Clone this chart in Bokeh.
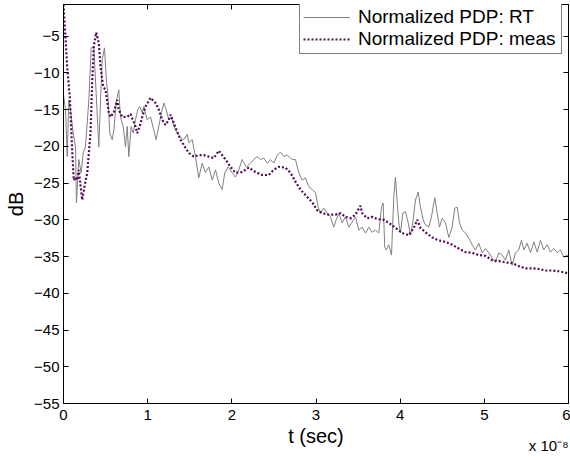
from bokeh.plotting import figure
from bokeh.models import Range1d, LinearAxis, FixedTicker, Title, Legend, LegendItem
from bokeh.embed import file_html
from bokeh.resources import INLINE

# time in units of 1e-8 s
t_rt = [0.000, 0.024, 0.044, 0.063, 0.083, 0.115, 0.143, 0.154, 0.182, 0.210,
        0.234, 0.261, 0.301, 0.329, 0.360, 0.392, 0.419, 0.440, 0.460, 0.487,
        0.511, 0.526, 0.550, 0.579, 0.598, 0.630, 0.657, 0.677, 0.709, 0.737,
        0.757, 0.776, 0.804, 0.828, 0.855, 0.883, 0.906, 0.935, 0.954, 0.994,
        1.034, 1.073, 1.101, 1.132, 1.164, 1.192, 1.220, 1.251, 1.283, 1.310,
        1.351, 1.390, 1.429, 1.470, 1.489, 1.529, 1.568, 1.607, 1.648, 1.687,
        1.726, 1.767, 1.806, 1.845, 1.885, 1.916, 1.957, 2.004, 2.043, 2.083,
        2.123, 2.171, 2.222, 2.261, 2.302, 2.341, 2.380, 2.420, 2.459, 2.499,
        2.539, 2.578, 2.617, 2.658, 2.717, 2.756, 2.796, 2.836, 2.875, 2.915,
        2.955, 2.994, 3.026, 3.053, 3.093, 3.133, 3.172, 3.211, 3.240, 3.271,
        3.311, 3.350, 3.390, 3.430, 3.469, 3.508, 3.549, 3.588, 3.627, 3.668,
        3.707, 3.746, 3.778, 3.798, 3.817, 3.834, 3.865, 3.897, 3.924, 3.944,
        3.965, 3.984, 4.004, 4.031, 4.063, 4.095, 4.123, 4.150, 4.182, 4.214,
        4.241, 4.274, 4.301, 4.340, 4.372, 4.411, 4.440, 4.467, 4.499, 4.538,
        4.578, 4.618, 4.649, 4.678, 4.705, 4.737, 4.776, 4.815, 4.855, 4.894,
        4.934, 4.974, 5.013, 5.053, 5.093, 5.132, 5.171, 5.212, 5.251, 5.290,
        5.331, 5.370, 5.409, 5.441, 5.469, 5.509, 5.548, 5.588, 5.628, 5.667,
        5.706, 5.747, 5.786, 5.825, 5.866, 5.905, 5.944, 5.984, 6.000]
pdp_rt = [-13.0, -15.0, -21.4, -13.7, -15.0, -18.2, -20.1, -27.7, -21.8, -23.6,
          -20.9, -20.1, -13.7, -6.6, -6.4, -13.7, -20.1, -13.7, -8.2, -6.6,
          -11.3, -12.7, -18.2, -19.1, -17.8, -13.7, -12.3, -16.0, -17.3, -20.1,
          -17.3, -21.4, -17.3, -18.2, -16.4, -15.0, -14.6, -15.4, -14.6, -16.4,
          -16.0, -17.8, -19.1, -17.3, -15.4, -14.1, -15.0, -16.4, -16.0, -17.3,
          -18.2, -18.8, -19.1, -18.4, -19.5, -19.1, -21.4, -24.3, -22.3, -23.6,
          -22.8, -24.6, -23.2, -25.0, -25.9, -23.6, -22.8, -23.6, -24.2, -23.2,
          -21.8, -22.8, -22.3, -21.8, -21.4, -21.8, -21.6, -22.3, -21.8, -22.3,
          -21.2, -20.8, -21.4, -21.2, -21.8, -21.8, -23.6, -24.6, -24.3, -25.5,
          -25.9, -26.3, -28.3, -29.1, -28.4, -29.1, -29.6, -31.0, -30.0, -29.1,
          -30.4, -29.6, -31.0, -30.3, -29.6, -31.4, -31.0, -31.8, -31.0, -31.7,
          -31.4, -31.8, -28.3, -27.7, -33.7, -34.1, -33.4, -34.8, -26.9, -24.2,
          -27.7, -30.4, -31.8, -29.1, -28.9, -30.4, -32.1, -30.4, -27.3, -26.2,
          -28.3, -30.0, -30.7, -31.0, -29.6, -27.0, -29.1, -31.0, -29.8, -30.4,
          -32.4, -31.0, -28.4, -28.3, -30.4, -31.4, -31.8, -32.5, -33.4, -34.1,
          -33.2, -34.5, -33.9, -34.5, -35.2, -35.8, -34.5, -34.8, -35.5, -34.1,
          -36.2, -34.5, -34.1, -32.8, -34.1, -33.2, -34.5, -33.0, -34.4, -32.8,
          -34.1, -33.4, -34.4, -33.9, -34.5, -34.1, -35.1, -34.8, -35.2]

t_meas = [0.000, 0.044, 0.075, 0.103, 0.122, 0.143, 0.166, 0.182, 0.202, 0.222,
          0.249, 0.282, 0.321, 0.341, 0.360, 0.388, 0.419, 0.440,
          0.472, 0.499, 0.538, 0.558, 0.598, 0.638, 0.657, 0.697, 0.757, 0.796,
          0.855, 0.876, 0.906, 0.935, 0.974, 1.034, 1.093, 1.132, 1.173, 1.212,
          1.251, 1.271, 1.310, 1.351, 1.390, 1.449, 1.489, 1.548, 1.607, 1.667,
          1.726, 1.786, 1.845, 1.885, 1.925, 1.984, 2.043, 2.123, 2.201, 2.281,
          2.361, 2.439, 2.498, 2.558, 2.637, 2.697, 2.756, 2.816, 2.895, 2.955,
          3.014, 3.073, 3.152, 3.231, 3.291, 3.350, 3.410, 3.469, 3.528, 3.549,
          3.608, 3.667, 3.727, 3.805, 3.865, 3.944, 4.024, 4.102, 4.162, 4.202,
          4.241, 4.301, 4.380, 4.459, 4.538, 4.618, 4.696, 4.776, 4.855, 4.934,
          5.013, 5.093, 5.171, 5.251, 5.331, 5.409, 5.489, 5.568, 5.647, 5.726,
          5.806, 5.884, 6.000]
pdp_meas = [-0.7, -9.2, -13.3, -20.5, -24.6, -24.2, -24.6, -23.2, -25.3, -27.3,
            -25.5, -23.6, -18.2, -11.3, -6.4, -4.5, -5.9, -9.2,
            -11.9, -12.3, -15.4, -16.0, -15.4, -13.7, -15.0, -16.0, -16.0, -15.6,
            -17.3, -18.2, -17.3, -16.0, -14.6, -13.4, -14.1, -15.0, -16.4, -17.1,
            -16.4, -15.7, -16.8, -18.0, -19.1, -20.2, -20.9, -21.4, -21.2, -21.2,
            -21.4, -21.6, -20.6, -21.2, -21.8, -22.8, -23.6, -23.5, -22.9, -23.5,
            -23.9, -23.9, -23.2, -22.8, -22.9, -23.6, -24.8, -25.9, -26.9, -27.6,
            -28.7, -29.1, -29.3, -29.3, -29.1, -29.6, -29.8, -29.3, -28.1, -29.1,
            -29.8, -29.6, -29.9, -30.0, -30.4, -31.1, -31.8, -32.1, -31.1, -30.0,
            -31.1, -31.7, -32.4, -32.8, -33.0, -33.4, -33.9, -34.4, -34.5, -34.8,
            -34.9, -35.5, -35.6, -35.8, -35.9, -36.3, -36.6, -36.6, -36.7, -36.9,
            -36.9, -37.0, -37.3]

x_ticks = [0, 1, 2, 3, 4, 5, 6]
y_ticks = [-55, -50, -45, -40, -35, -30, -25, -20, -15, -10, -5]
legend_labels = ["Normalized PDP: RT", "Normalized PDP: meas"]
x_label = "t (sec)"
y_label = "dB"
x_multiplier = "x 10\u207b\u2078"

FONT = "Liberation Sans"

p = figure(width=570, height=457, output_backend="svg", toolbar_location=None,
           x_range=Range1d(0, 6), y_range=Range1d(-55, -0.7),
           min_border_left=63, min_border_right=2, min_border_top=4, min_border_bottom=54)
p.xgrid.visible = False
p.ygrid.visible = False
p.outline_line_color = "black"
p.outline_line_width = 1
p.background_fill_color = "white"
p.border_fill_color = "white"

r1 = p.line(t_rt, pdp_rt, line_color="#808080", line_width=1)
r2 = p.line(t_meas, pdp_meas, line_color="#4f0c50", line_width=2.2, line_dash="2 2")

xa = p.xaxis[0]
xa.ticker = FixedTicker(ticks=x_ticks)
ya = p.yaxis[0]
ya.ticker = FixedTicker(ticks=y_ticks)
for ax in (xa, ya):
    ax.axis_line_color = "black"
    ax.major_tick_in = 5
    ax.major_tick_out = 0
    ax.minor_tick_line_color = None
    ax.major_label_text_font = FONT
    ax.major_label_text_font_size = "15px"
    ax.major_label_text_color = "black"
    ax.axis_label_text_font = FONT
    ax.axis_label_text_font_size = "20px"
    ax.axis_label_text_font_style = "normal"
    ax.axis_label_text_color = "black"
xa.major_label_standoff = 6
ya.major_label_standoff = 4
xa.axis_label = x_label
xa.axis_label_standoff = 2
ya.axis_label = y_label
ya.axis_label_standoff = 4

top = LinearAxis(ticker=FixedTicker(ticks=x_ticks))
right = LinearAxis(ticker=FixedTicker(ticks=y_ticks))
for ax in (top, right):
    ax.major_tick_in = 5
    ax.major_tick_out = 0
    ax.minor_tick_line_color = None
    ax.major_label_text_font_size = "0px"
    ax.major_label_text_color = None
    ax.major_label_standoff = 0
    ax.axis_line_color = "black"
p.add_layout(top, "above")
p.add_layout(right, "right")

legend = Legend(items=[LegendItem(label=legend_labels[0], renderers=[r1]),
                       LegendItem(label=legend_labels[1], renderers=[r2])],
                location=(236, 349))
legend.margin = 0
legend.padding = 3
legend.spacing = -1
legend.glyph_width = 47
legend.glyph_height = 18
legend.label_height = 18
legend.label_width = 200
legend.label_standoff = 8
legend.label_text_font = FONT
legend.label_text_font_size = "19px"
legend.label_text_color = "black"
legend.border_line_color = "black"
legend.border_line_width = 1
legend.background_fill_color = "white"
legend.background_fill_alpha = 1
p.add_layout(legend)

mult = Title(text=x_multiplier, align="right", vertical_align="top", standoff=-25, offset=0,
             text_font=FONT, text_font_size="15px", text_font_style="normal",
             text_color="black")
p.add_layout(mult, "below")

open("out.html", "w").write(file_html(p, INLINE))
